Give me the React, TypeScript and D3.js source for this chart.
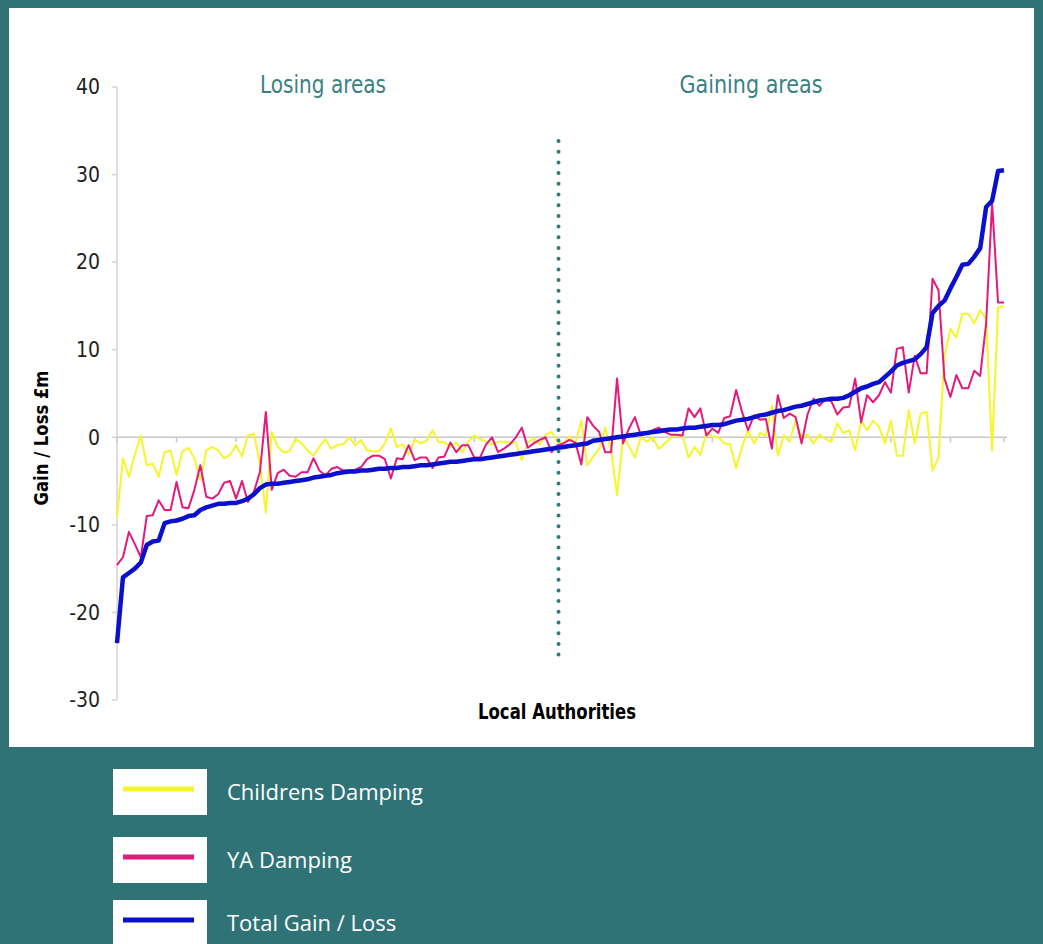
import React from 'react';
import * as d3 from 'd3';

// Local authorities sorted by total gain / loss (£m)
const totalGainLoss = [
  -23.5, -16.0, -15.5, -15.0, -14.3, -12.3, -11.9, -11.8, -9.8, -9.6,
  -9.5, -9.3, -9.0, -8.9, -8.3, -8.0, -7.8, -7.6, -7.6, -7.5,
  -7.5, -7.3, -7.0, -6.5, -5.8, -5.4, -5.3, -5.3, -5.2, -5.1,
  -5.0, -4.9, -4.8, -4.6, -4.5, -4.4, -4.3, -4.1, -4.0, -3.9,
  -3.9, -3.8, -3.8, -3.7, -3.6, -3.6, -3.5, -3.5, -3.4, -3.4,
  -3.3, -3.2, -3.2, -3.1, -3.0, -2.9, -2.8, -2.8, -2.7, -2.6,
  -2.5, -2.5, -2.4, -2.3, -2.2, -2.1, -2.0, -1.9, -1.8, -1.7,
  -1.6, -1.5, -1.4, -1.3, -1.2, -1.1, -1.0, -0.9, -0.8, -0.7,
  -0.4, -0.3, -0.2, -0.1, 0.0, 0.1, 0.2, 0.3, 0.4, 0.5,
  0.6, 0.7, 0.8, 0.9, 0.9, 1.0, 1.1, 1.1, 1.2, 1.3,
  1.4, 1.4, 1.5, 1.7, 1.9, 2.0, 2.1, 2.3, 2.5, 2.6,
  2.8, 3.0, 3.1, 3.3, 3.5, 3.6, 3.8, 4.0, 4.2, 4.3,
  4.4, 4.4, 4.5, 4.8, 5.2, 5.6, 5.8, 6.1, 6.3, 6.9,
  7.5, 8.2, 8.5, 8.7, 8.9, 9.5, 10.3, 14.2, 15.0, 15.6,
  17.0, 18.3, 19.7, 19.8, 20.6, 21.6, 26.3, 27.0, 30.4, 30.5,
];

const yaDamping = [
  -14.6, -13.7, -10.8, -12.2, -13.7, -9.0, -8.9, -7.2, -8.3, -8.3,
  -5.1, -8.0, -8.1, -6.0, -3.2, -6.8, -7.0, -6.5, -5.2, -5.0,
  -7.0, -5.0, -7.4, -6.2, -4.0, 2.9, -6.0, -4.1, -3.7, -4.4,
  -4.5, -4.0, -4.0, -2.4, -3.8, -4.4, -3.6, -3.4, -3.8, -3.8,
  -3.7, -3.4, -2.5, -2.1, -2.1, -2.5, -4.7, -2.4, -2.5, -0.9,
  -2.6, -2.3, -2.3, -3.5, -2.3, -2.2, -0.6, -1.7, -0.9, -0.9,
  -2.3, -2.3, -0.8, 0.0, -1.7, -1.3, -0.8, 0.0, 1.1, -1.2,
  -0.7, -0.3, 0.0, -1.7, -0.9, -0.7, -0.3, -0.6, -3.1, 2.3,
  1.3, 0.6, -1.7, -1.7, 6.7, -0.7, 1.0, 2.3, 0.2, 0.5,
  0.8, 1.1, 0.6, 0.3, 0.3, 0.2, 3.3, 2.3, 3.3, 0.2,
  1.0, 0.5, 2.2, 2.4, 5.4, 2.9, 0.8, 2.5, 2.0, 2.1,
  -1.3, 4.8, 2.2, 2.7, 2.3, -0.7, 2.6, 4.4, 3.6, 4.4,
  4.1, 2.6, 3.4, 3.5, 6.7, 1.7, 4.8, 4.0, 4.8, 6.3,
  5.1, 10.1, 10.3, 5.1, 9.3, 7.3, 7.3, 18.1, 16.8, 6.7,
  4.6, 7.1, 5.6, 5.6, 7.6, 7.0, 13.0, 26.8, 15.4, 15.4,
];

const childrensDamping = [
  -9.1, -2.4, -4.5, -2.0, 0.2, -3.2, -3.0, -4.5, -1.7, -1.5,
  -4.3, -1.6, -1.2, -2.4, -4.9, -1.5, -1.1, -1.5, -2.4, -2.0,
  -0.9, -2.2, 0.2, 0.4, -3.0, -8.6, 0.6, -1.1, -1.7, -1.6,
  -0.2, -0.7, -1.5, -2.1, -1.1, -0.2, -1.3, -0.9, -0.8, 0.0,
  -0.9, -0.3, -1.5, -1.6, -1.6, -0.7, 1.0, -1.1, -0.8, -2.0,
  -0.3, -0.7, -0.4, 0.8, -0.5, -0.6, -1.1, -0.6, -1.7, -0.5,
  0.2, -0.2, -0.5, -0.8, -0.5, -0.5, -0.6, -0.6, -2.6, -0.6,
  -0.1, -0.8, 0.3, 0.6, -0.5, -0.7, 0.1, -0.7, 1.9, -3.2,
  -2.2, -1.3, 1.1, -1.5, -6.6, 0.0, -1.0, -2.3, 0.0, -0.5,
  0.0, -1.3, -0.7, -0.1, 0.2, 0.2, -2.3, -1.1, -2.0, 0.5,
  0.1, 0.0, -0.7, -0.8, -3.5, -1.1, 0.8, -0.7, 0.5, 0.2,
  3.6, -2.1, 0.2, -0.5, 2.0, 0.0, 0.3, -0.7, 0.3, -0.2,
  -0.5, 1.6, 0.5, 0.8, -1.5, 1.9, 0.8, 1.9, 1.2, -0.7,
  1.9, -2.1, -2.1, 3.1, -0.7, 2.7, 2.9, -3.8, -2.3, 9.3,
  12.4, 11.4, 14.1, 14.1, 13.0, 14.5, 13.5, -1.5, 14.8, 15.0,
];

const yTicks = [40, 30, 20, 10, 0, -10, -20, -30];
const splitIndex = 74;

const series = [
  { name: 'Childrens Damping', values: childrensDamping, color: '#f6f52a', width: 2 },
  { name: 'YA Damping', values: yaDamping, color: '#e5197c', width: 2 },
  { name: 'Total Gain / Loss', values: totalGainLoss, color: '#0a10cc', width: 4.5 },
];

const TEAL = '#2f7376';
const narrow = '"Liberation Sans Narrow", "DejaVu Sans Condensed", "Liberation Sans", sans-serif';

export default function App() {
  const n = totalGainLoss.length;
  const x = d3.scaleLinear().domain([0, n - 1]).range([117, 1004]);
  const y = d3.scaleLinear().domain([-30, 40]).range([700, 87]);

  const line = d3.line<number>()
    .x((_, i) => x(i))
    .y(d => y(d));

  const xTicks = d3.range(0, n, 10).concat([n - 1]);

  const legendY = [769, 837, 900];

  return (
    <svg width={1043} height={944} style={{ position: 'absolute', left: 0, top: 0 }}>
      <rect x={0} y={0} width={1043} height={944} fill={TEAL} />
      <rect x={9} y={8} width={1025} height={739} fill="#fff" />

      {/* y axis */}
      <line x1={x(0)} x2={x(0)} y1={y(40)} y2={y(-30)} stroke="#d4d4d4" strokeWidth={1.5} />
      {yTicks.map(t => (
        <g key={t}>
          <line x1={x(0) - 5} x2={x(0)} y1={y(t)} y2={y(t)} stroke="#d4d4d4" strokeWidth={1.5} />
          <text x={100} y={y(t)} dy="0.35em" textAnchor="end" fontFamily={narrow}
            fontSize={21} fill="#1e1e1e">{t}</text>
        </g>
      ))}

      {/* zero line with category ticks */}
      <line x1={x(0)} x2={x(n - 1) + 3} y1={y(0)} y2={y(0)} stroke="#c8c8c8" strokeWidth={1.5} />
      {xTicks.map(i => (
        <line key={i} x1={x(i)} x2={x(i)} y1={y(0)} y2={y(0) + 5} stroke="#c8c8c8" strokeWidth={1.5} />
      ))}

      {series.map(s => (
        <path key={s.name} d={line(s.values) || ''} fill="none" stroke={s.color}
          strokeWidth={s.width} strokeLinejoin="round" />
      ))}

      {/* split between losing and gaining areas */}
      <line x1={x(splitIndex) + 1} x2={x(splitIndex) + 1} y1={141} y2={663}
        stroke="#2e7b7a" strokeWidth={4} strokeLinecap="round" strokeDasharray="0 10.7" />

      <text x={323} y={93} textAnchor="middle" fontFamily={narrow} fontSize={25}
        fill="#3a8182" textLength={126} lengthAdjust="spacingAndGlyphs">Losing areas</text>
      <text x={751} y={93} textAnchor="middle" fontFamily={narrow} fontSize={25}
        fill="#3a8182" textLength={143} lengthAdjust="spacingAndGlyphs">Gaining areas</text>

      <text transform={`translate(48, 438) rotate(-90)`} textAnchor="middle" fontFamily={narrow}
        fontWeight="bold" fontSize={20} fill="#000" textLength={135}
        lengthAdjust="spacingAndGlyphs">Gain / Loss £m</text>
      <text x={557} y={719} textAnchor="middle" fontFamily={narrow} fontWeight="bold"
        fontSize={21} fill="#000" textLength={158} lengthAdjust="spacingAndGlyphs">Local Authorities</text>

      {/* legend */}
      {series.map((s, k) => (
        <g key={s.name}>
          <rect x={113} y={legendY[k]} width={94} height={46} fill="#fff" />
          <line x1={123} x2={194} y1={legendY[k] + 20} y2={legendY[k] + 20}
            stroke={s.color} strokeWidth={5} />
          <text x={227} y={legendY[k] + 31} fontFamily='"Open Sans", "Noto Sans", sans-serif'
            fontSize={22} fill="#fff">{s.name}</text>
        </g>
      ))}
    </svg>
  );
}
